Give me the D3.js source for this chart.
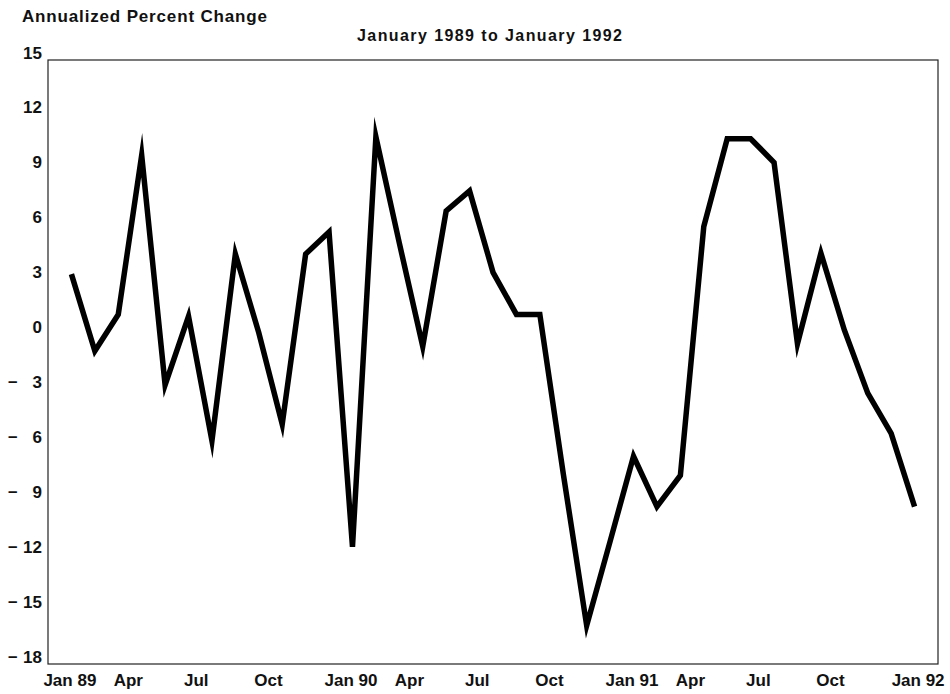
<!DOCTYPE html>
<html>
<head>
<meta charset="utf-8">
<script src="https://cdn.jsdelivr.net/npm/d3@7/dist/d3.min.js"></script>
<style>
  body { margin: 0; background: #fff; }
  svg text { font-family: "Liberation Sans", Arial, sans-serif; font-weight: bold; fill: #111; }
</style>
</head>
<body>
<svg id="chart" width="950" height="694"></svg>
<script>
// monthly annualized percent change, Jan 89 .. Jan 92 (37 months)
const values = [
    3.3, -0.9, 1.1, 9.8, -2.75, 1.0, -5.8, 4.4, 0.1, -4.9, 4.4, 5.6,
    -11.6, 10.8, 5.0, -0.65, 6.75, 7.85, 3.4, 1.1, 1.1, -7.6, -15.9, -11.3,
    -6.65, -9.4, -7.7, 5.9, 10.7, 10.7, 9.4, -0.5, 4.45, 0.25, -3.2, -5.4,
    -9.4
];
const xTickMonths = [0, 3, 6, 9, 12, 15, 18, 21, 24, 27, 30, 33, 36];
const xTickLabels = ['Jan 89', 'Apr', 'Jul', 'Oct', 'Jan 90', 'Apr', 'Jul', 'Oct',
    'Jan 91', 'Apr', 'Jul', 'Oct', 'Jan 92'];
const yTicks = [15, 12, 9, 6, 3, 0, -3, -6, -9, -12, -15, -18];

const svg = d3.select('#chart');

const x = d3.scaleLinear().domain([-1, 37]).range([48, 938]);
const y = d3.scaleLinear().domain([-18, 15]).range([664, 60]);

// titles
svg.append('text')
    .attr('x', 22).attr('y', 22)
    .attr('font-size', 17)
    .attr('textLength', 245).attr('lengthAdjust', 'spacing')
    .text('Annualized Percent Change');

svg.append('text')
    .attr('x', 357).attr('y', 41)
    .attr('font-size', 16)
    .attr('textLength', 265).attr('lengthAdjust', 'spacing')
    .text('January 1989 to January 1992');

// plot frame
svg.append('rect')
    .attr('x', x.range()[0]).attr('y', y.range()[1])
    .attr('width', x.range()[1] - x.range()[0])
    .attr('height', y.range()[0] - y.range()[1])
    .attr('fill', 'none')
    .attr('stroke', '#222')
    .attr('stroke-width', 1.2);

// y labels: baseline sits on the tick value, minus sign pushed to the left
const yLabels = svg.append('g').attr('class', 'y-labels');
const yLabel = yLabels.selectAll('g').data(yTicks).enter().append('g')
    .attr('transform', d => `translate(0,${y(d) - 1.5})`);
yLabel.append('text')
    .attr('x', 42)
    .attr('text-anchor', 'end')
    .attr('font-size', 17)
    .text(d => Math.abs(d));
yLabel.filter(d => d < 0).append('text')
    .attr('x', 8)
    .attr('y', -1)
    .attr('font-size', 17)
    .text('\u2013');

// x labels sit left of their month, last one kept inside the page
svg.append('g').attr('class', 'x-labels')
    .selectAll('text').data(xTickMonths).enter().append('text')
    .attr('x', (m, i) => i === xTickMonths.length - 1 ? x(m) + 30 : x(m) - 28)
    .attr('y', 686)
    .attr('text-anchor', (m, i) => i === xTickMonths.length - 1 ? 'end' : 'start')
    .attr('font-size', 17)
    .text((m, i) => xTickLabels[i]);

// series line
const line = d3.line()
    .x((d, i) => x(i))
    .y(d => y(d));

svg.append('path')
    .datum(values)
    .attr('d', line)
    .attr('fill', 'none')
    .attr('stroke', '#000')
    .attr('stroke-width', 5.5)
    .attr('stroke-linejoin', 'miter')
    .attr('stroke-miterlimit', 10);
</script>
</body>
</html>
